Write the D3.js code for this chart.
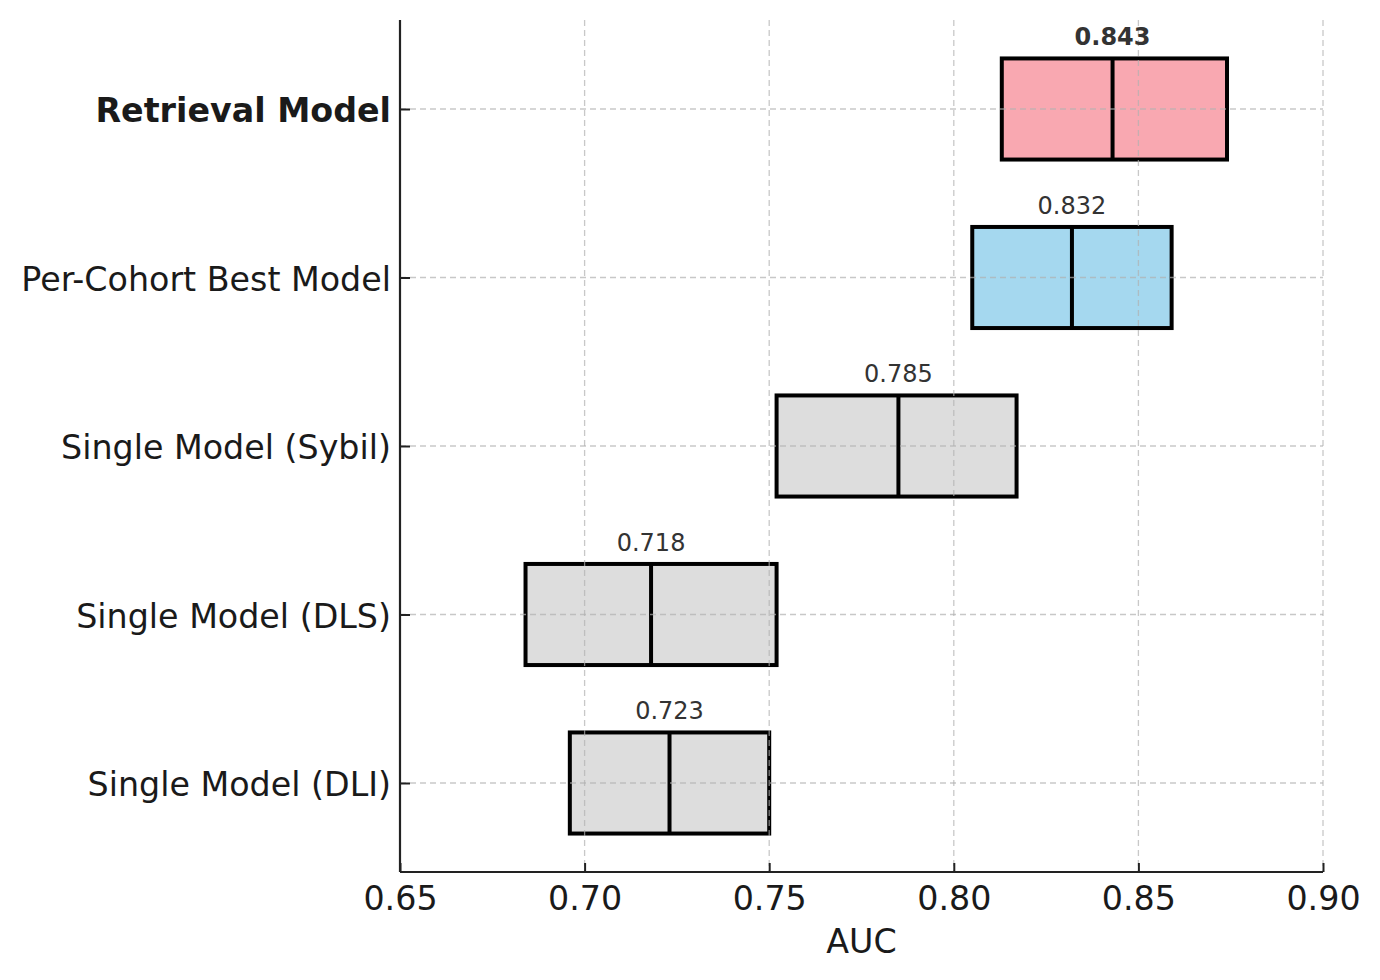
<!DOCTYPE html>
<html>
<head>
<meta charset="utf-8">
<script src="https://cdn.jsdelivr.net/npm/d3@7"></script>
<style>
  body { margin: 0; background: #fff; }
  text { font-family: "DejaVu Sans", sans-serif; }
</style>
</head>
<body>
<script>
// bottom to top
var models = ["Single Model (DLI)", "Single Model (DLS)", "Single Model (Sybil)", "Per-Cohort Best Model", "Retrieval Model"];
var lows = [0.696, 0.684, 0.752, 0.805, 0.813];
var medians = [0.723, 0.718, 0.785, 0.832, 0.843];
var highs = [0.750, 0.752, 0.817, 0.859, 0.874];
var colors = ["#dddddd", "#dddddd", "#dddddd", "#a5d8ef", "#f9a8b1"];
var xTicks = [0.65, 0.70, 0.75, 0.80, 0.85, 0.90];

var width = 1380, height = 980;
var mLeft = 400, mRight = 1323, mTop = 20, mBottom = 872;
var fs = 33.3;

var data = models.map((m, i) => ({
  name: m, lo: lows[i], med: medians[i], hi: highs[i], color: colors[i],
  best: m == "Retrieval Model"
}));

var svg = d3.select("body").append("svg")
  .attr("width", width)
  .attr("height", height);

var x = d3.scaleLinear()
  .domain([0.65, 0.90])
  .range([mLeft, mRight]);

var y = d3.scalePoint()
  .domain(models)
  .range([783, 109]);

var boxH = y.step() * 0.6;

// boxes
var boxes = svg.append("g");
boxes.selectAll("rect")
  .data(data)
  .join("rect")
    .attr("x", d => x(d.lo))
    .attr("y", d => y(d.name) - boxH / 2)
    .attr("width", d => x(d.hi) - x(d.lo))
    .attr("height", boxH)
    .attr("fill", d => d.color)
    .attr("stroke", "#000")
    .attr("stroke-width", 4);

boxes.selectAll("line")
  .data(data)
  .join("line")
    .attr("x1", d => x(d.med))
    .attr("x2", d => x(d.med))
    .attr("y1", d => y(d.name) - boxH / 2)
    .attr("y2", d => y(d.name) + boxH / 2)
    .attr("stroke", "#000")
    .attr("stroke-width", 4);

// grid on top
var grid = svg.append("g")
  .attr("stroke", "#b0b0b0")
  .attr("stroke-opacity", 0.7)
  .attr("stroke-width", 1.3)
  .attr("stroke-dasharray", "6,4");
grid.selectAll(".v")
  .data(xTicks)
  .join("line")
    .attr("class", "v")
    .attr("x1", d => x(d)).attr("x2", d => x(d))
    .attr("y1", mTop).attr("y2", mBottom);
grid.selectAll(".h")
  .data(models)
  .join("line")
    .attr("class", "h")
    .attr("x1", mLeft).attr("x2", mRight)
    .attr("y1", d => y(d)).attr("y2", d => y(d));

// value labels
svg.append("g")
  .selectAll("text")
  .data(data)
  .join("text")
    .attr("x", d => x(d.med))
    .attr("y", d => y(d.name) - boxH / 2 - 13)
    .attr("text-anchor", "middle")
    .attr("font-size", 24)
    .attr("font-weight", d => d.best ? "bold" : "normal")
    .attr("fill", "#333")
    .text(d => d.med.toFixed(3));

// axes
var xAxis = g => g
  .attr("transform", `translate(0,${mBottom})`)
  .call(d3.axisBottom(x).tickValues(xTicks).tickFormat(d3.format(".2f")).tickSizeInner(-9).tickSizeOuter(0).tickPadding(14))
  .call(g => g.select(".domain").attr("d", `M${mLeft},0H${mRight}`).attr("stroke", "#222").attr("stroke-width", 2.2))
  .call(g => g.selectAll(".tick line").attr("stroke", "#222").attr("stroke-width", 2))
  .call(g => g.selectAll(".tick text")
    .attr("font-family", "DejaVu Sans")
    .attr("font-size", fs)
    .attr("fill", "#1a1a1a"));

var yAxis = g => g
  .attr("transform", `translate(${mLeft},0)`)
  .call(d3.axisLeft(y).tickSizeInner(-10).tickSizeOuter(0).tickPadding(9))
  .call(g => g.select(".domain").attr("d", `M0,${mTop}V${mBottom}`).attr("stroke", "#222").attr("stroke-width", 2.2))
  .call(g => g.selectAll(".tick line").attr("stroke", "#222").attr("stroke-width", 2))
  .call(g => g.selectAll(".tick text")
    .attr("font-family", "DejaVu Sans")
    .attr("font-size", fs)
    .attr("dy", "0.38em")
    .attr("fill", "#1a1a1a")
    .attr("font-weight", d => d == "Retrieval Model" ? "bold" : "normal"));

svg.append("g").call(xAxis);
svg.append("g").call(yAxis);

svg.append("text")
  .attr("x", (mLeft + mRight) / 2)
  .attr("y", 953)
  .attr("text-anchor", "middle")
  .attr("font-size", fs)
  .attr("fill", "#1a1a1a")
  .text("AUC");
</script>
</body>
</html>
